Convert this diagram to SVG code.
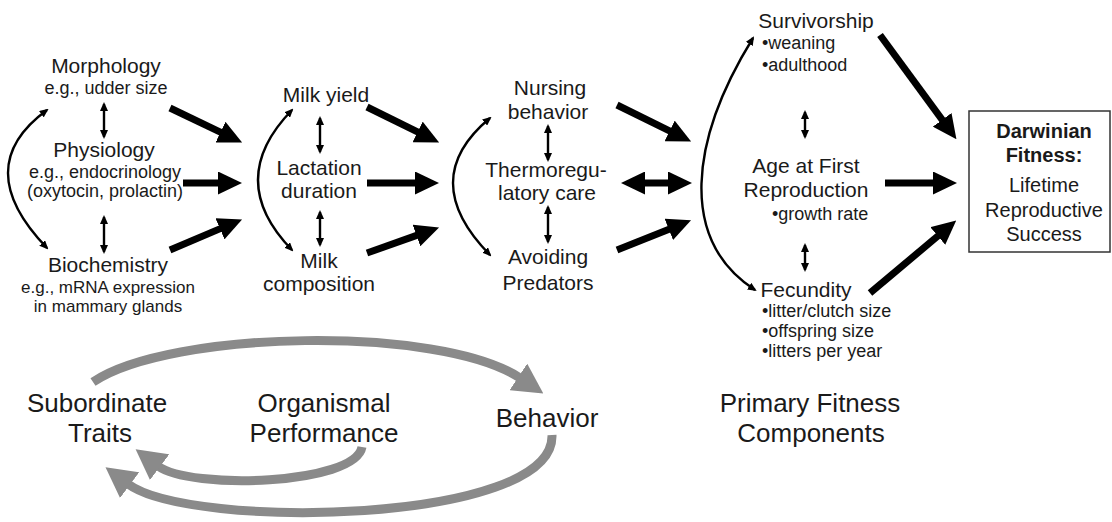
<svg xmlns="http://www.w3.org/2000/svg" width="1112" height="522" viewBox="0 0 1112 522">
  <style>
    text { font-family: "Liberation Sans", Arial, sans-serif; fill: #1a1a1a; text-anchor: middle; }
    .main { font-size: 21px; }
    .sub { font-size: 18px; }
    .sm { font-size: 17px; }
    .lst { font-size: 18px; text-anchor: start; }
    .big { font-size: 26px; }
    .box { font-size: 20px; }
    .bold { font-weight: bold; }
    .thick { stroke: #000; stroke-width: 7; fill: none; marker-end: url(#headBig); }
    .thin { stroke: #000; stroke-width: 2.4; fill: none; marker-start: url(#headSmall); marker-end: url(#headSmall); }
    .gray { stroke: #8a8a8a; stroke-width: 9; fill: none; marker-end: url(#headGray); }
  </style>
  <defs>
    <marker id="headBig" markerUnits="userSpaceOnUse" viewBox="0 0 24 23" markerWidth="24" markerHeight="23" refX="1" refY="11.5" orient="auto-start-reverse">
      <path d="M0,0 L24,11.5 L0,23 z" fill="#000"/>
    </marker>
    <marker id="headSmall" markerUnits="userSpaceOnUse" viewBox="0 0 9 8" markerWidth="9" markerHeight="8" refX="7" refY="4" orient="auto-start-reverse">
      <path d="M0,0 L9,4 L0,8 z" fill="#000"/>
    </marker>
    <marker id="headGray" markerUnits="userSpaceOnUse" viewBox="0 0 30 32" markerWidth="30" markerHeight="32" refX="2" refY="16" orient="auto">
      <path d="M0,0 L30,16 L0,32 z" fill="#8a8a8a"/>
    </marker>
  </defs>

  <!-- connectors -->
  <g id="connectors">
    <!-- double arrows between neighbouring items of a level -->
    <path class="thin" d="M104,104 V137"/>
    <path class="thin" d="M104,217 V252"/>
    <path class="thin" d="M320,118 V152"/>
    <path class="thin" d="M320,212 V245"/>
    <path class="thin" d="M548,126 V160"/>
    <path class="thin" d="M548,207 V242"/>
    <path class="thin" d="M805,112 V137"/>
    <path class="thin" d="M805,245 V270"/>
    <!-- curved links between first and last item of each level -->
    <path class="thin" d="M47,110 Q-31,167 47,248"/>
    <path class="thin" d="M292,110 Q224,180 292,250"/>
    <path class="thin" d="M490,118 Q416,179.5 490,255"/>
    <path class="thin" d="M753,38 C690,140 678,240 755,290"/>
    <!-- level to level -->
    <path class="thick" d="M170,108 L221.4,132.6"/>
    <path class="thick" d="M183,183 L219,183"/>
    <path class="thick" d="M170,250 L220.9,228.4"/>
    <path class="thick" d="M367,107 L418.5,132.4"/>
    <path class="thick" d="M367,183 L416,183"/>
    <path class="thick" d="M367,253 L417.4,235.1"/>
    <path class="thick" d="M617,105 L670.5,131.4"/>
    <path class="thick" d="M644,183 L669,183" style="marker-start:url(#headBig)"/>
    <path class="thick" d="M617,250 L669.7,228.9"/>
    <path class="thick" d="M880,35 L942.8,120.6"/>
    <path class="thick" d="M885,183 L934,183"/>
    <path class="thick" d="M870,293 L938.6,235.4"/>
    <!-- gray loops between levels -->
    <path class="gray" d="M93,382 C170,330 440,325 520,378"/>
    <path class="gray" d="M362,447 C355,485 190,490 158,466"/>
    <path class="gray" d="M552,435 C555,525 190,530 128,484"/>
  </g>

  <g id="morphology">
    <text class="main" x="106" y="73">Morphology</text>
    <text class="sub" x="106" y="94">e.g., udder size</text>
  </g>
  <g id="physiology">
    <text class="main" x="104" y="157">Physiology</text>
    <text class="sub" x="105" y="178">e.g., endocrinology</text>
    <text class="sub" x="105" y="197">(oxytocin, prolactin)</text>
  </g>
  <g id="biochemistry">
    <text class="main" x="108" y="272">Biochemistry</text>
    <text class="sm" x="108" y="293">e.g., mRNA expression</text>
    <text class="sm" x="108" y="312">in mammary glands</text>
  </g>

  <g id="milk-yield">
    <text class="main" x="326" y="102">Milk yield</text>
  </g>
  <g id="lactation-duration">
    <text class="main" x="319" y="175">Lactation</text>
    <text class="main" x="319" y="198">duration</text>
  </g>
  <g id="milk-composition">
    <text class="main" x="319" y="268">Milk</text>
    <text class="main" x="319" y="291">composition</text>
  </g>

  <g id="nursing-behavior">
    <text class="main" x="550" y="95">Nursing</text>
    <text class="main" x="548" y="119">behavior</text>
  </g>
  <g id="thermoregulatory-care">
    <text class="main" x="546" y="177">Thermoregu-</text>
    <text class="main" x="547" y="200">latory care</text>
  </g>
  <g id="avoiding-predators">
    <text class="main" x="548" y="264">Avoiding</text>
    <text class="main" x="548" y="290">Predators</text>
  </g>

  <g id="survivorship">
    <text class="main" x="816" y="28">Survivorship</text>
    <text class="lst" x="762" y="49">•weaning</text>
    <text class="lst" x="762" y="71">•adulthood</text>
  </g>
  <g id="age-first-reproduction">
    <text class="main" x="806" y="173">Age at First</text>
    <text class="main" x="806" y="197">Reproduction</text>
    <text class="lst" x="772" y="220">•growth rate</text>
  </g>
  <g id="fecundity">
    <text class="main" x="806" y="297">Fecundity</text>
    <text class="lst" x="762" y="317">•litter/clutch size</text>
    <text class="lst" x="762" y="337">•offspring size</text>
    <text class="lst" x="762" y="357">•litters per year</text>
  </g>

  <g id="darwinian-fitness">
    <rect x="969" y="111" width="141" height="141" fill="#fff" stroke="#333" stroke-width="1.5"/>
    <text class="box bold" x="1044" y="138">Darwinian</text>
    <text class="box bold" x="1044" y="162">Fitness:</text>
    <text class="box" x="1044" y="192">Lifetime</text>
    <text class="box" x="1044" y="217">Reproductive</text>
    <text class="box" x="1044" y="241">Success</text>
  </g>

  <g id="subordinate-traits">
    <text class="big" x="97" y="412">Subordinate</text>
    <text class="big" x="100" y="442">Traits</text>
  </g>
  <g id="organismal-performance">
    <text class="big" x="324" y="412">Organismal</text>
    <text class="big" x="324" y="442">Performance</text>
  </g>
  <g id="behavior">
    <text class="big" x="547" y="427">Behavior</text>
  </g>
  <g id="primary-fitness-components">
    <text class="big" x="810" y="412">Primary Fitness</text>
    <text class="big" x="811" y="442">Components</text>
  </g>
</svg>
